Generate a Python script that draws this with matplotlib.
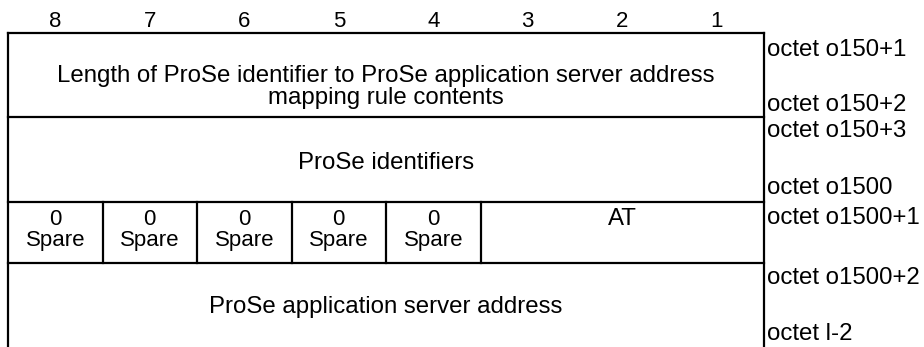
import matplotlib
matplotlib.use("Agg")
import matplotlib.pyplot as plt

# --- content ---
bits = ["8", "7", "6", "5", "4", "3", "2", "1"]
field_length = ["Length of ProSe identifier to ProSe application server address",
                "mapping rule contents"]
field_ids = "ProSe identifiers"
spare_bits = ["0"] * 5
spare_name = ["Spare"] * 5
field_at = "AT"
field_addr = "ProSe application server address"
octets = ["octet o150+1", "octet o150+2", "octet o150+3", "octet o1500",
          "octet o1500+1", "octet o1500+2", "octet l-2"]

plt.rcParams.update({"font.family": ["Liberation Sans", "DejaVu Sans"], "font.size": 17.3})

fig = plt.figure(figsize=(9.24, 3.47), dpi=100)
ax = fig.add_axes([0, 0, 1, 1])
ax.set_xlim(0, 924); ax.set_ylim(347, 0)
ax.axis("off")

L, R = 8, 764
cw = (R - L) / 8
TOP, Y1, Y2, Y3 = 33, 117, 202, 263
LW = 1.6
K = "black"
SM = 16

# frame
ax.plot([L, R], [TOP, TOP], color=K, lw=LW)
ax.plot([L, L], [TOP, 347], color=K, lw=LW)
ax.plot([R, R], [TOP, 347], color=K, lw=LW)
for y in (Y1, Y2, Y3):
    ax.plot([L, R], [y, y], color=K, lw=LW)
for i in range(1, 6):
    x = L + i * cw
    ax.plot([x, x], [Y2, Y3], color=K, lw=LW)

# bit numbers
for i, b in enumerate(bits):
    ax.text(L + (i + 0.5) * cw, 27, b, ha="center", va="baseline", fontsize=SM)

# fields
mid = (L + R) / 2
ax.text(mid, 82, field_length[0], ha="center", va="baseline")
ax.text(mid, 104, field_length[1], ha="center", va="baseline")
ax.text(mid, 169, field_ids, ha="center", va="baseline")
for i, (z, s) in enumerate(zip(spare_bits, spare_name)):
    ax.text(L + (i + 0.5) * cw, 225, z, ha="center", va="baseline", fontsize=SM)
    ax.text(L + (i + 0.5) * cw, 246, s, ha="center", va="baseline", fontsize=SM)
ax.text(L + 6.5 * cw, 225, field_at, ha="center", va="baseline")
ax.text(mid, 313, field_addr, ha="center", va="baseline")

# octet labels
oct_y = [56, 111, 137, 194, 224, 284, 340]
for lab, y in zip(octets, oct_y):
    ax.text(R + 3, y, lab, ha="left", va="baseline")

fig.savefig("out.png", dpi=100, facecolor="white")
